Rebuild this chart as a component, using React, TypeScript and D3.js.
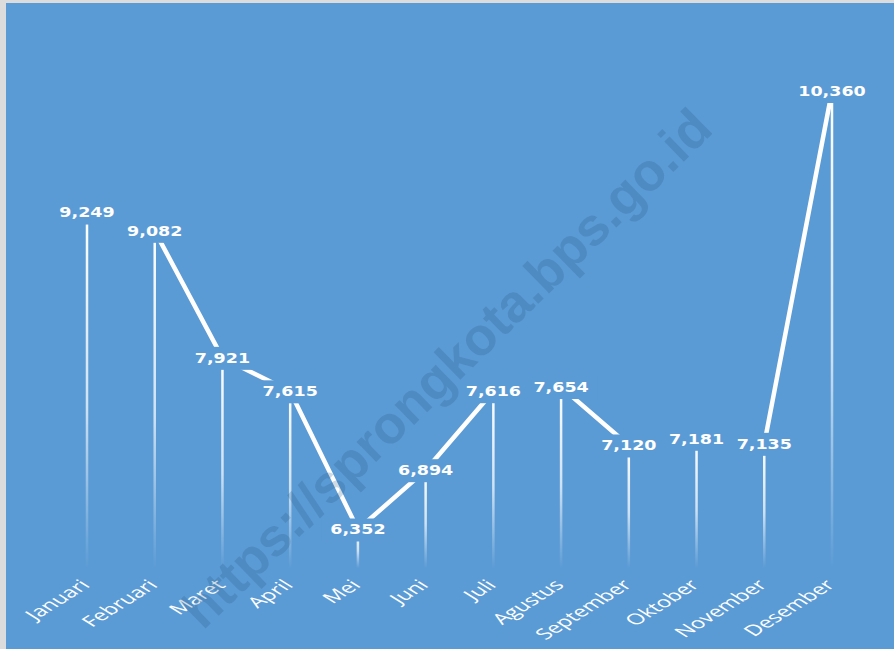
import React, { useEffect, useRef } from "react";
import * as d3 from "d3";

// monthly values
const months = [
  "Januari", "Februari", "Maret", "April", "Mei", "Juni",
  "Juli", "Agustus", "September", "Oktober", "November", "Desember",
];
const values = [9249, 9082, 7921, 7615, 6352, 6894, 7616, 7654, 7120, 7181, 7135, 10360];
const watermark = "https://sprongkota.bps.go.id";

const App = () => {
  const svgRef = useRef<SVGSVGElement>(null);

  useEffect(() => {
    const width = 894;
    const height = 649;
    const bg = "#5b9bd5";

    const svg = d3.select(svgRef.current);
    svg.selectAll("*").remove();
    svg.attr("width", width).attr("height", height);

    // frame
    svg.append("rect").attr("width", width).attr("height", height).attr("fill", "#dcdcdc");
    svg.append("rect").attr("x", 6).attr("y", 3).attr("width", width - 6).attr("height", height - 3).attr("fill", bg);

    const x = d3.scalePoint<string>().domain(months).range([87, 832]);
    const y = d3.scaleLinear().domain([6000, 11000]).range([568, 21]);

    const data = months.map((m, i) => ({ m, v: values[i] }));

    // gradient for drop lines
    const defs = svg.append("defs");
    const grad = defs
      .append("linearGradient")
      .attr("id", "dropGrad")
      .attr("x1", 0).attr("y1", 0).attr("x2", 0).attr("y2", 1);
    grad.append("stop").attr("offset", "0%").attr("stop-color", "#fff").attr("stop-opacity", 1);
    grad.append("stop").attr("offset", "55%").attr("stop-color", "#fff").attr("stop-opacity", 0.7);
    grad.append("stop").attr("offset", "100%").attr("stop-color", "#fff").attr("stop-opacity", 0);

    // drop lines
    svg
      .append("g")
      .selectAll("rect")
      .data(data)
      .enter()
      .append("rect")
      .attr("x", (d) => x(d.m)! - 1.25)
      .attr("y", (d) => y(d.v))
      .attr("width", 2.5)
      .attr("height", (d) => y.range()[0] - y(d.v))
      .attr("fill", "url(#dropGrad)");

    // line
    const line = d3
      .line<{ m: string; v: number }>()
      .x((d) => x(d.m)!)
      .y((d) => y(d.v));

    svg
      .append("path")
      .datum(data)
      .attr("d", line)
      .attr("fill", "none")
      .attr("stroke", "#fff")
      .attr("stroke-width", 4.5)
      .attr("stroke-linejoin", "miter");

    // data labels with background
    const fmt = d3.format(",");
    const labels = svg.append("g");
    data.forEach((d) => {
      const cx = x(d.m)!;
      const cy = y(d.v);
      const t = labels
        .append("text")
        .attr("transform", `translate(${cx},${cy}) scale(1.25,1)`)
        .attr("text-anchor", "middle")
        .attr("dominant-baseline", "central")
        .style("font-family", "'DejaVu Sans', sans-serif")
        .style("font-weight", "bold")
        .style("font-size", "14px")
        .attr("fill", "#fff")
        .text(fmt(d.v));
      const w = (t.node() as SVGTextElement).getComputedTextLength() * 1.25 + 18;
      labels
        .insert("rect", "text")
        .attr("x", cx - w / 2)
        .attr("y", cy - 11)
        .attr("width", w)
        .attr("height", 23)
        .attr("fill", bg);
    });
    labels.selectAll("text").raise();

    // category labels
    svg
      .append("g")
      .selectAll("text")
      .data(months)
      .enter()
      .append("text")
      .attr("transform", (m) => `translate(${x(m)! + 4},${586}) scale(1.6,1) rotate(-45)`)
      .attr("text-anchor", "end")
      .style("font-family", "'Open Sans', sans-serif")
      .style("font-size", "15px")
      .attr("fill", "#fff")
      .text((m) => m);

    // watermark
    svg
      .append("text")
      .attr("transform", "translate(446,368) rotate(-44.3)")
      .attr("text-anchor", "middle")
      .attr("dominant-baseline", "central")
      .style("font-family", "'Liberation Sans', Arial, sans-serif")
      .style("font-weight", "bold")
      .style("font-size", "53px")
      .attr("fill", "#1f4e79")
      .attr("fill-opacity", 0.21)
      .text(watermark);
  }, []);

  return <svg ref={svgRef} style={{ position: "absolute", left: 0, top: 0, display: "block" }}></svg>;
};

export default App;
